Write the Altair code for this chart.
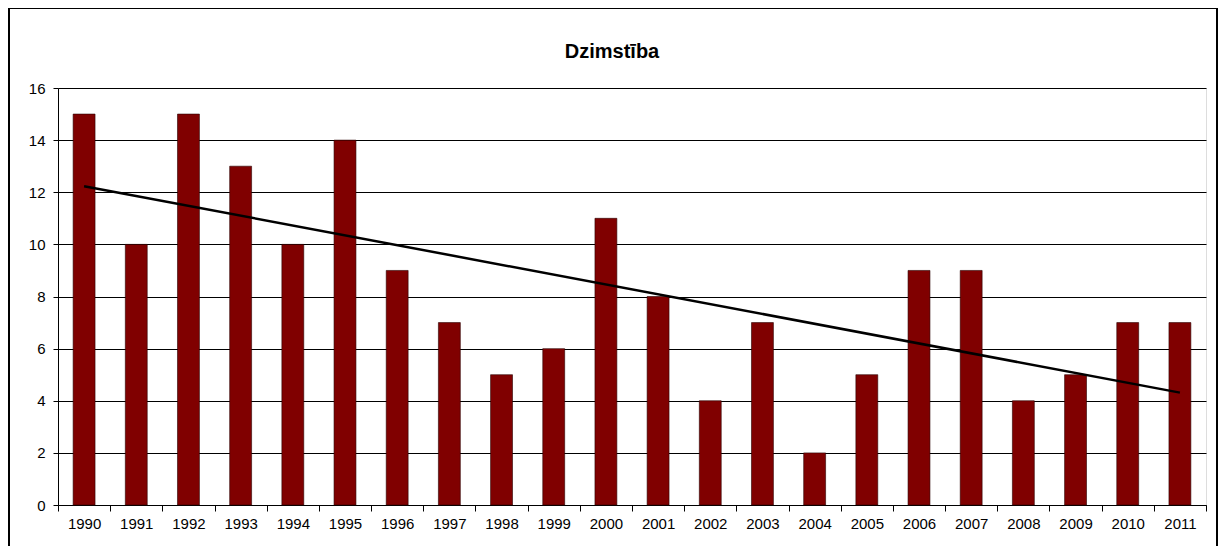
import altair as alt
import pandas as pd

years = [1990, 1991, 1992, 1993, 1994, 1995, 1996, 1997, 1998, 1999, 2000,
         2001, 2002, 2003, 2004, 2005, 2006, 2007, 2008, 2009, 2010, 2011]
values = [15, 10, 15, 13, 10, 14, 9, 7, 5, 6, 11, 8, 4, 7, 2, 5, 9, 9, 4, 5, 7, 7]
y_ticks = [0, 2, 4, 6, 8, 10, 12, 14, 16]

df = pd.DataFrame({"year": years, "value": values})

W, H = 1148, 417
FONT = "Liberation Sans"

x_enc = alt.X(
    "year:O",
    title=None,
    scale=alt.Scale(paddingInner=0, paddingOuter=0),
    axis=alt.Axis(
        tickBand="extent", labelAngle=0, labelFont=FONT, labelFontSize=15,
        labelColor="black", tickColor="black", domainColor="black",
        tickSize=6, labelPadding=5, grid=False,
    ),
)
y_enc = alt.Y(
    "value:Q",
    title=None,
    scale=alt.Scale(domain=[0, 16], nice=False),
    axis=alt.Axis(
        values=y_ticks, labelFont=FONT, labelFontSize=15, labelColor="black",
        tickColor="black", domainColor="black", tickSize=5, labelPadding=8,
        grid=True, gridColor="black", gridWidth=1,
    ),
)

base = alt.Chart(df)

bars = base.mark_bar(
    width=alt.RelativeBandSize(0.42), color="#800000",
    stroke="#2a0000", strokeWidth=0.6,
).encode(x=x_enc, y=y_enc)

trend = base.transform_regression("year", "value").mark_line(
    color="black", strokeWidth=2.5
).encode(x=alt.X("year:O"), y=alt.Y("value:Q"))

frame = base.mark_rect(
    fillOpacity=0, stroke="black", strokeWidth=1
).encode(
    x=alt.value(-49), x2=alt.value(1159), y=alt.value(-79.5), y2=alt.value(470)
)

chart = alt.layer(bars, trend, frame).properties(
    width=W,
    height=H,
    title=alt.TitleParams(
        "Dzimstība", font=FONT, fontSize=20, fontWeight="bold", color="black",
        anchor="middle", dx=-20, offset=-70, baseline="alphabetic",
    ),
    autosize=alt.AutoSizeParams(type="none"),
    padding={"left": 50, "top": 80, "right": 12, "bottom": 41},
).configure_view(stroke="#b0b0b0").configure(background="white")

chart.save("out.html", embed_options={"renderer": "svg", "actions": False})
